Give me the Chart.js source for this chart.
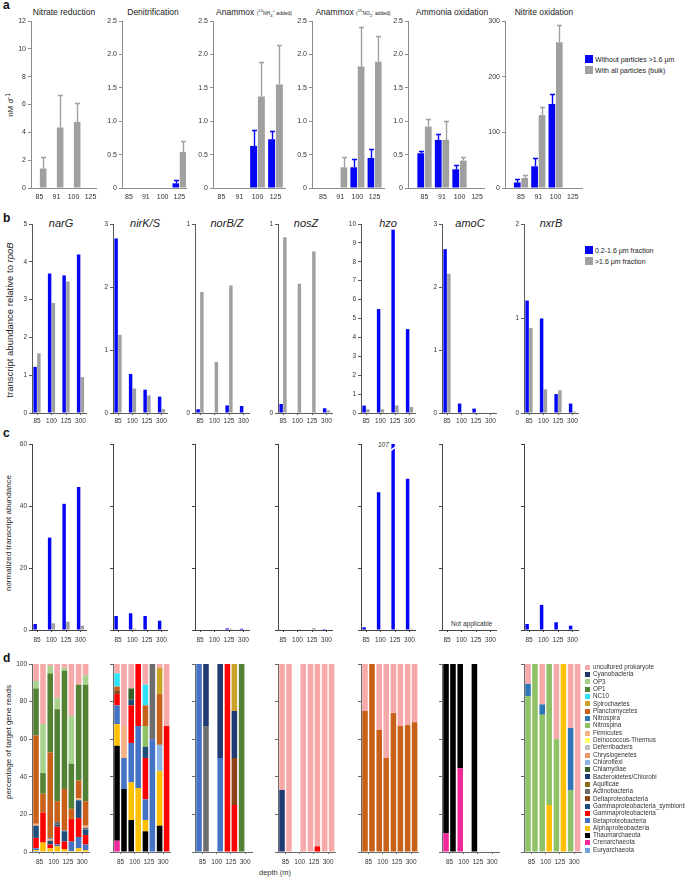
<!DOCTYPE html>
<html lang="en">
<head>
<meta charset="UTF-8">
<title>N-cycle rates, transcripts and taxonomy</title>
<script src="https://cdn.jsdelivr.net/npm/chart.js"></script>
<style>
  body { margin: 0; width: 685px; height: 879px; position: relative; overflow: hidden; background: #fff;
         font-family: 'Liberation Sans', Arial, sans-serif; color: #222; }
  canvas { position: absolute; }
  .t { position: absolute; white-space: nowrap; line-height: 1; }
  .panel { font-weight: bold; font-size: 12px; color: #111; }
  .ta { font-size: 8.5px; transform: translateX(-50%); }
  .ta small { font-size: 5px; }
  .tb { font-size: 11px; font-style: italic; transform: translateX(-50%); }
  .ylab { font-size: 8px; transform: translate(-50%, -50%) rotate(-90deg); }
  .leg { font-size: 7px; }
  .sw { position: absolute; }
  .dleg { font-size: 6.3px; color: #333; }
  .note { font-size: 6.5px; color: #333; }
</style>
</head>
<body>
<div class="t panel" style="left:3px;top:-1px">a</div>
<div class="t panel" style="left:3px;top:212px">b</div>
<div class="t panel" style="left:3px;top:427px">c</div>
<div class="t panel" style="left:3px;top:652px">d</div>

<div class="t ta" style="left:64px;top:8px">Nitrate reduction</div>
<div class="t ta" style="left:153px;top:8px">Denitrification</div>
<div class="t ta" style="left:254px;top:8px">Anammox <small>(<sup>15</sup>NH<sub>4</sub><sup>+</sup> added)</small></div>
<div class="t ta" style="left:353px;top:8px">Anammox <small>(<sup>15</sup>NO<sub>2</sub><sup>-</sup> added)</small></div>
<div class="t ta" style="left:452px;top:8px">Ammonia oxidation</div>
<div class="t ta" style="left:544px;top:8px">Nitrite oxidation</div>

<div class="t tb" style="left:61px;top:218px">narG</div>
<div class="t tb" style="left:145px;top:218px">nirK/S</div>
<div class="t tb" style="left:227px;top:218px">norB/Z</div>
<div class="t tb" style="left:306px;top:218px">nosZ</div>
<div class="t tb" style="left:388px;top:218px">hzo</div>
<div class="t tb" style="left:470px;top:218px">amoC</div>
<div class="t tb" style="left:551px;top:218px">nxrB</div>

<div class="t ylab" style="left:10px;top:105px">nM d<sup>-1</sup></div>
<div class="t ylab" style="left:10px;top:320px;font-size:9.5px">transcript abundance relative to <i>rpoB</i></div>
<div class="t ylab" style="left:9px;top:533px">normalized transcript abundance</div>
<div class="t ylab" style="left:9px;top:742px">percentage of target gene reads</div>

<div class="sw" style="left:585px;top:55px;width:8px;height:8px;background:#0505f5"></div>
<div class="t leg" style="left:595px;top:55.5px">Without particles &gt;1.6 μm</div>
<div class="sw" style="left:585px;top:66px;width:8px;height:8px;background:#a0a0a0"></div>
<div class="t leg" style="left:595px;top:66.5px">With all particles (bulk)</div>

<div class="sw" style="left:585px;top:246px;width:8px;height:8px;background:#0505f5"></div>
<div class="t leg" style="left:595px;top:246.5px">0.2-1.6 μm fraction</div>
<div class="sw" style="left:585px;top:257px;width:8px;height:8px;background:#a0a0a0"></div>
<div class="t leg" style="left:595px;top:257.5px">&gt;1.6 μm fraction</div>

<div class="t note" style="left:378px;top:442px;font-style:italic">107</div>
<div class="t note" style="left:451px;top:621px">Not applicable</div>
<div class="t note" style="left:259px;top:869px;font-size:7.5px">depth (m)</div>

<script>
// ---------- data ----------
// a: rates (nM d-1), blue = without particles >1.6 um, gray = bulk; errors are upper error bars
const depthsA = ['85', '91', '100', '125'];
const nitRedFree = [null, null, null, null];
const nitRedBulk = [1.4, 4.35, 4.75, null];
const nitRedBulkErr = [0.8, 2.3, 1.35, null];
const denitFree = [null, null, null, 0.07];
const denitFreeErr = [null, null, null, 0.05];
const denitBulk = [null, null, null, 0.54];
const denitBulkErr = [null, null, null, 0.17];
const anxNH4Free = [null, null, 0.63, 0.73];
const anxNH4FreeErr = [null, null, 0.24, 0.13];
const anxNH4Bulk = [null, null, 1.37, 1.55];
const anxNH4BulkErr = [null, null, 0.51, 0.59];
const anxNO2Free = [null, null, 0.31, 0.45];
const anxNO2FreeErr = [null, null, 0.12, 0.14];
const anxNO2Bulk = [null, 0.31, 1.82, 1.89];
const anxNO2BulkErr = [null, 0.15, 0.59, 0.38];
const amoxFree = [0.52, 0.72, 0.28, null];
const amoxFreeErr = [0.03, 0.09, 0.07, null];
const amoxBulk = [0.92, 0.72, 0.41, null];
const amoxBulkErr = [0.12, 0.29, 0.05, null];
const nitoxFree = [10, 39, 151, null];
const nitoxFreeErr = [6, 14, 17, null];
const nitoxBulk = [18, 131, 262, null];
const nitoxBulkErr = [5, 14, 31, null];

// b: transcript abundance relative to rpoB
const depthsB = ['85', '100', '125', '300'];
const genes = ['narG', 'nirK/S', 'norB/Z', 'nosZ', 'hzo', 'amoC', 'nxrB'];
const narGSmall = [1.22, 3.69, 3.64, 4.19], narGLarge = [1.58, 2.91, 3.48, 0.95];
const nirKSmall = [2.77, 0.62, 0.37, 0.26], nirKLarge = [1.24, 0.39, 0.28, 0.06];
const norBSmall = [0.02, 0, 0.04, 0.037], norBLarge = [0.64, 0.27, 0.675, 0];
const nosZSmall = [0.048, 0, 0, 0.025], nosZLarge = [0.93, 0.684, 0.855, 0.014];
const hzoSmall = [0.39, 5.5, 9.7, 4.44], hzoLarge = [0.2, 0.2, 0.4, 0.32];
const amoCSmall = [2.6, 0.15, 0.07, 0], amoCLarge = [2.21, 0, 0, 0];
const nxrBSmall = [1.19, 1.0, 0.2, 0.1], nxrBLarge = [0.9, 0.25, 0.24, 0.015];
const bMax = [5, 3, 1, 1, 10, 3, 2];

// c: normalized transcript abundance
const narGCSmall = [1.94, 29.8, 40.7, 46.1], narGCLarge = [0, 2.15, 2.7, 1.4];
const nirKCSmall = [4.5, 5.4, 4.5, 3.0], nirKCLarge = [0, 0.4, 0, 0];
const norBCSmall = [0, 0, 0.5, 0.4], norBCLarge = [0, 0, 0.4, 0];
const nosZCSmall = [0, 0, 0, 0.3], nosZCLarge = [0, 0.3, 0.6, 0];
const hzoCSmall = [0.86, 44.4, 107, 48.8], hzoCLarge = [0, 0, 0.3, 0.3];
const amoCCSmall = [0, 0, 0, 0], amoCCLarge = [0, 0, 0, 0];
const nxrBCSmall = [1.94, 8.1, 2.5, 1.4], nxrBCLarge = [0, 0, 0, 0];
const cBreakCap = 61.3; // off-scale bar (107) is cut just above the axis

// d: percentage of target gene reads; 8 bars = (0.2-1.6, >1.6) x (85, 100, 125, 300 m)
const taxa = ['uncultured prokaryote', 'Cyanobacteria', 'OP3', 'OP1', 'NC10', 'Spirochaetes',
  'Planctomycetes', 'Nitrospira', 'Nitrospina', 'Firmicutes', 'Deinococcus-Thermus', 'Deferribacters',
  'Chrysiogenetes', 'Chloroflexi', 'Chlamydiae', 'Bacteroidetes/Chlorobi', 'Aquificae', 'Actinobacteria',
  'Deltaproteobacteria', 'Gammaproteobacteria_symbionts', 'Gammaproteobacteria', 'Betaproteobacteria',
  'Alphaproteobacteria', 'Thaumarchaeota', 'Crenarchaeota', 'Euryarchaeota'];
const taxaColors = ['#f7a8a8', '#1f3864', '#a9d18e', '#548235', '#2fe3f7', '#c9a227',
  '#c9601a', '#2e75b6', '#8fc167', '#f4b183', '#ffff66', '#bfbfbf',
  '#ee9a6a', '#8db4e2', '#3a5f26', '#203a73', '#8a6d12', '#6d6d6d',
  '#8c4516', '#1f4e79', '#ff0000', '#4472c4',
  '#ffc000', '#000000', '#f0289a', '#6fa0dc'];

const dNarG = {
  'uncultured prokaryote': [9, 32, 1, 18, 2, 27.5, 11, 6],
  'OP3': [4, 26, 4, 6, 1.5, 25.5, 0, 5],
  'OP1': [25, 11, 42, 49, 63, 24, 51, 62],
  'Planctomycetes': [47, 10, 45.5, 11, 22, 5.5, 9.5, 13],
  'Nitrospira': [0, 0, 0.5, 0, 0, 0, 0, 0],
  'Firmicutes': [1, 0, 1, 0, 0, 0, 1, 1],
  'Actinobacteria': [0, 0, 0, 1.5, 0.5, 0, 0, 1],
  'Gammaproteobacteria_symbionts': [6.5, 0, 2, 1, 5.5, 0, 9.5, 3],
  'Gammaproteobacteria': [5.5, 16, 2, 9.5, 4, 12, 10, 5],
  'Betaproteobacteria': [1, 0, 0, 1, 0, 5, 6, 3],
  'Alphaproteobacteria': [0.5, 5, 2, 3, 1.5, 0.5, 2, 1],
  'Euryarchaeota': [0.5, 0, 0, 0, 0, 0, 0, 0]
};
const dNirK = {
  'uncultured prokaryote': [5, 33, 13, 0, 11, 0, 2, 33],
  'NC10': [7, 0, 0, 0, 11, 0, 0, 0],
  'Spirochaetes': [0, 0, 0, 0, 0, 0, 14, 0],
  'Planctomycetes': [2, 0, 0, 0, 11, 0, 27, 0],
  'Nitrospina': [0, 0, 0, 0, 11, 0, 0, 0],
  'Firmicutes': [0, 17, 0, 0, 0, 0, 0, 0],
  'Chloroflexi': [0, 0, 0, 0, 0, 0, 14, 0],
  'Chlamydiae': [0, 0, 6, 0, 0, 0, 0, 0],
  'Actinobacteria': [0, 0, 0, 0, 0, 40, 0, 0],
  'Deltaproteobacteria': [2, 0, 0, 0, 0, 0, 0, 0],
  'Gammaproteobacteria_symbionts': [0, 0, 3, 0, 6, 0, 0, 0],
  'Gammaproteobacteria': [6, 0, 20, 33, 22, 0, 0, 67],
  'Betaproteobacteria': [10, 16.5, 21, 33, 11, 60, 0, 0],
  'Alphaproteobacteria': [11.5, 0, 20, 34, 6, 0, 29, 0],
  'Thaumarchaeota': [50.5, 33.5, 17, 0, 11, 0, 14, 0],
  'Crenarchaeota': [6, 0, 0, 0, 0, 0, 0, 0]
};
const dNorB = {
  'OP1': [0, 0, 0, 0, 0, 0, 100, 0],
  'Spirochaetes': [0, 0, 0, 0, 0, 25, 0, 0],
  'Bacteroidetes/Chlorobi': [0, 33, 0, 50, 0, 25, 0, 0],
  'Actinobacteria': [0, 67, 0, 0, 0, 0, 0, 0],
  'Deltaproteobacteria': [0, 0, 0, 0, 0, 25, 0, 0],
  'Gammaproteobacteria': [0, 0, 0, 0, 100, 25, 0, 0],
  'Betaproteobacteria': [100, 0, 0, 50, 0, 0, 0, 0]
};
const dNosZ = {
  'uncultured prokaryote': [67, 100, 0, 100, 100, 97, 100, 100],
  'Bacteroidetes/Chlorobi': [33, 0, 0, 0, 0, 0, 0, 0],
  'Gammaproteobacteria': [0, 0, 0, 0, 0, 3, 0, 0]
};
const dHzo = {
  'uncultured prokaryote': [25, 0, 35, 50, 26, 33, 32.5, 31],
  'Planctomycetes': [75, 100, 65, 50, 74, 67, 67.5, 69]
};
const dAmoC = {
  'Thaumarchaeota': [90, 100, 55.5, 0, 100, 0, 0, 0],
  'Crenarchaeota': [10, 0, 44.5, 0, 0, 0, 0, 0]
};
const dNxrB = {
  'uncultured prokaryote': [10.5, 0, 21.5, 0, 40, 0, 34, 100],
  'Nitrospira': [6.5, 0, 5.5, 0, 0, 0, 33, 0],
  'Nitrospina': [83, 100, 73, 75, 60, 0, 33, 0],
  'Alphaproteobacteria': [0, 0, 0, 25, 0, 100, 0, 0]
};

// ---------- drawing ----------
const YW = 30, PT = 8, PR = 10, XH = 16;
const FONT = "'Liberation Sans', Arial, sans-serif";
const BLUE = '#0505f5', GRAY = '#a0a0a0';

const errorBars = {
  id: 'errorBars',
  afterDatasetsDraw(chart) {
    const ctx = chart.ctx, ys = chart.scales.y;
    chart.data.datasets.forEach((ds, i) => {
      if (!ds.errors) return;
      chart.getDatasetMeta(i).data.forEach((bar, j) => {
        const v = ds.data[j].y, e = ds.errors[j];
        if (v == null || !e) return;
        const x = Math.round(bar.x) + 0.5;
        const yTop = Math.round(ys.getPixelForValue(v + e)) + 0.5;
        ctx.save();
        ctx.strokeStyle = ds.backgroundColor;
        ctx.lineWidth = 1.4;
        ctx.beginPath();
        ctx.moveTo(x, bar.y); ctx.lineTo(x, yTop);
        ctx.moveTo(x - 2.5, yTop); ctx.lineTo(x + 2.5, yTop);
        ctx.stroke();
        ctx.restore();
      });
    });
  }
};

const breakMark = {
  id: 'breakMark',
  afterDatasetsDraw(chart) {
    const ctx = chart.ctx, ys = chart.scales.y;
    const meta = chart.getDatasetMeta(0);
    hzoCSmall.forEach((v, j) => {
      if (v <= cBreakCap) return;
      const bar = meta.data[j];
      const y = ys.getPixelForValue(58.8);
      const x0 = bar.x - bar.width / 2 - 1, x1 = bar.x + bar.width / 2 + 1;
      ctx.save();
      ctx.fillStyle = '#fff';
      ctx.beginPath();
      ctx.moveTo(x0, y + 2); ctx.lineTo(x1, y - 2); ctx.lineTo(x1, y); ctx.lineTo(x0, y + 4);
      ctx.closePath(); ctx.fill();
      ctx.restore();
    });
  }
};

function makeChart(geo, top, bottom, labels, sets, yCfg, look) {
  const xmin = -(geo.c0 - geo.axisX) / geo.cw;
  const areaW = geo.xEnd - geo.axisX;
  const xmax = xmin + areaW / geo.cw;
  const w = YW + areaW + PR, h = PT + (bottom - top) + XH;
  const cv = document.createElement('canvas');
  cv.width = w; cv.height = h;
  cv.style.left = (geo.axisX - YW) + 'px';
  cv.style.top = (top - PT) + 'px';
  cv.style.width = w + 'px'; cv.style.height = h + 'px';
  document.body.appendChild(cv);
  const tickFont = { family: FONT, size: look.font };
  return new Chart(cv, {
    type: 'bar',
    data: {
      datasets: sets.map(s => ({
        data: s.values.map((v, i) => ({ x: i, y: v })),
        errors: s.errors,
        backgroundColor: s.color,
        stack: s.stack,
        borderWidth: 0,
        categoryPercentage: look.cat,
        barPercentage: look.bar
      }))
    },
    options: {
      responsive: false, animation: false, devicePixelRatio: 1,
      layout: { padding: { top: PT, right: PR, left: 0, bottom: 0 } },
      plugins: { legend: { display: false }, tooltip: { enabled: false } },
      scales: {
        x: {
          type: 'linear', min: xmin, max: xmax, offset: false, stacked: !!look.stacked,
          afterBuildTicks: s => { s.ticks = labels.map((_, i) => ({ value: i })); },
          afterFit: s => { s.height = XH; },
          ticks: { callback: v => labels[v], font: tickFont, color: '#333', padding: look.xPad,
                   autoSkip: false, maxRotation: 0, minRotation: 0 },
          grid: { display: true, offset: false, drawOnChartArea: false, drawTicks: look.xTicks,
                  tickLength: 2, color: look.axis },
          border: { display: true, color: look.axis, width: 1 }
        },
        y: {
          type: 'linear', min: 0, max: yCfg.max, stacked: !!look.stacked,
          afterBuildTicks: s => { s.ticks = yCfg.ticks.map(v => ({ value: v })); },
          afterFit: s => { s.width = YW; },
          ticks: { callback: yCfg.fmt, font: tickFont, color: '#333', padding: 2, autoSkip: false },
          grid: { display: true, drawOnChartArea: false, drawTicks: true, tickLength: 3, color: look.axis },
          border: { display: true, color: look.axis, width: 1 }
        }
      }
    },
    plugins: [errorBars].concat(look.plugins || [])
  });
}

// panel a
const lookA = { font: 7, cat: 0.86, bar: 0.9, xPad: 5, xTicks: false, axis: '#8c8c8c' };
const halfTicks = { max: 2.5, ticks: [0, 0.5, 1, 1.5, 2, 2.5], fmt: v => v === 0 ? '0' : v.toFixed(1) };
const rowA = [
  { geo: { axisX: 31, c0: 39.5, cw: 17, xEnd: 96 }, y: { max: 12, ticks: [0, 2, 4, 6, 8, 10, 12], fmt: v => String(v) },
    free: nitRedFree, freeErr: null, bulk: nitRedBulk, bulkErr: nitRedBulkErr },
  { geo: { axisX: 122, c0: 129, cw: 16.8, xEnd: 186 }, y: halfTicks,
    free: denitFree, freeErr: denitFreeErr, bulk: denitBulk, bulkErr: denitBulkErr },
  { geo: { axisX: 213, c0: 221.5, cw: 18, xEnd: 285 }, y: halfTicks,
    free: anxNH4Free, freeErr: anxNH4FreeErr, bulk: anxNH4Bulk, bulkErr: anxNH4BulkErr },
  { geo: { axisX: 312, c0: 323, cw: 17.2, xEnd: 384 }, y: halfTicks,
    free: anxNO2Free, freeErr: anxNO2FreeErr, bulk: anxNO2Bulk, bulkErr: anxNO2BulkErr },
  { geo: { axisX: 408, c0: 424.5, cw: 17.5, xEnd: 484 }, y: halfTicks,
    free: amoxFree, freeErr: amoxFreeErr, bulk: amoxBulk, bulkErr: amoxBulkErr },
  { geo: { axisX: 505, c0: 521, cw: 17.3, xEnd: 582 }, y: { max: 300, ticks: [0, 100, 200, 300], fmt: v => String(v) },
    free: nitoxFree, freeErr: nitoxFreeErr, bulk: nitoxBulk, bulkErr: nitoxBulkErr }
];
rowA.forEach(p => makeChart(p.geo, 21, 188, depthsA, [
  { values: p.free, errors: p.freeErr, color: BLUE },
  { values: p.bulk, errors: p.bulkErr, color: GRAY }
], p.y, lookA));

// panels b, c, d share the same column positions
const axesBCD = [32, 113, 195, 278, 361, 442, 524];
const geoBC = x => ({ axisX: x, c0: x + 5, cw: 14.5, xEnd: x + 54 });
const geoD = x => ({ axisX: x, c0: x + 7.5, cw: 14.2, xEnd: x + 57 });

const lookB = { font: 6.5, cat: 0.52, bar: 0.92, xPad: 2, xTicks: true, axis: '#5a5a5a' };
const bSmall = [narGSmall, nirKSmall, norBSmall, nosZSmall, hzoSmall, amoCSmall, nxrBSmall];
const bLarge = [narGLarge, nirKLarge, norBLarge, nosZLarge, hzoLarge, amoCLarge, nxrBLarge];
genes.forEach((g, k) => {
  const ticks = [];
  for (let v = 0; v <= bMax[k]; v++) ticks.push(v);
  makeChart(geoBC(axesBCD[k]), 224, 413, depthsB, [
    { values: bSmall[k], color: BLUE },
    { values: bLarge[k], color: GRAY }
  ], { max: bMax[k], ticks, fmt: v => String(v) }, lookB);
});

const lookC = { font: 6.5, cat: 0.52, bar: 0.92, xPad: 4, xTicks: true, axis: '#444' };
const cSmall = [narGCSmall, nirKCSmall, norBCSmall, nosZCSmall, hzoCSmall, amoCCSmall, nxrBCSmall];
const cLarge = [narGCLarge, nirKCLarge, norBCLarge, nosZCLarge, hzoCLarge, amoCCLarge, nxrBCLarge];
genes.forEach((g, k) => {
  makeChart(geoBC(axesBCD[k]), 444, 630, depthsB, [
    { values: cSmall[k].map(v => Math.min(v, cBreakCap)), color: BLUE },
    { values: cLarge[k], color: GRAY }
  ], { max: 60, ticks: [0, 20, 40, 60], fmt: v => k === 0 ? String(v) : '' },
  Object.assign({}, lookC, { plugins: g === 'hzo' ? [breakMark] : [] }));
});

function taxonSets(panel) {
  const sets = [];
  for (let k = taxa.length - 1; k >= 0; k--) {
    const vals = panel[taxa[k]];
    if (!vals) continue;
    sets.push({ values: vals.filter((_, i) => i % 2 === 0), color: taxaColors[k], stack: 's' });
    sets.push({ values: vals.filter((_, i) => i % 2 === 1), color: taxaColors[k], stack: 'l' });
  }
  return sets;
}
const lookD = { font: 6.5, cat: 0.98, bar: 0.8, xPad: 4, xTicks: true, axis: '#6a6a6a', stacked: true };
const dPanels = [dNarG, dNirK, dNorB, dNosZ, dHzo, dAmoC, dNxrB];
dPanels.forEach((panel, k) => {
  makeChart(geoD(axesBCD[k]), 664, 852, depthsB, taxonSets(panel),
    { max: 100, ticks: [0, 20, 40, 60, 80, 100], fmt: v => k === 0 ? String(v) : '' }, lookD);
});

// taxonomy legend
taxa.forEach((name, i) => {
  const y = 667.3 + i * 7.31;
  const sw = document.createElement('div');
  sw.className = 'sw';
  sw.style.cssText = `left:585px;top:${y - 2.5}px;width:5px;height:5px;background:${taxaColors[i]}`;
  document.body.appendChild(sw);
  const tx = document.createElement('div');
  tx.className = 't dleg';
  tx.style.left = '593px';
  tx.style.top = (y - 3.3) + 'px';
  tx.textContent = name;
  document.body.appendChild(tx);
});
</script>
</body>
</html>
